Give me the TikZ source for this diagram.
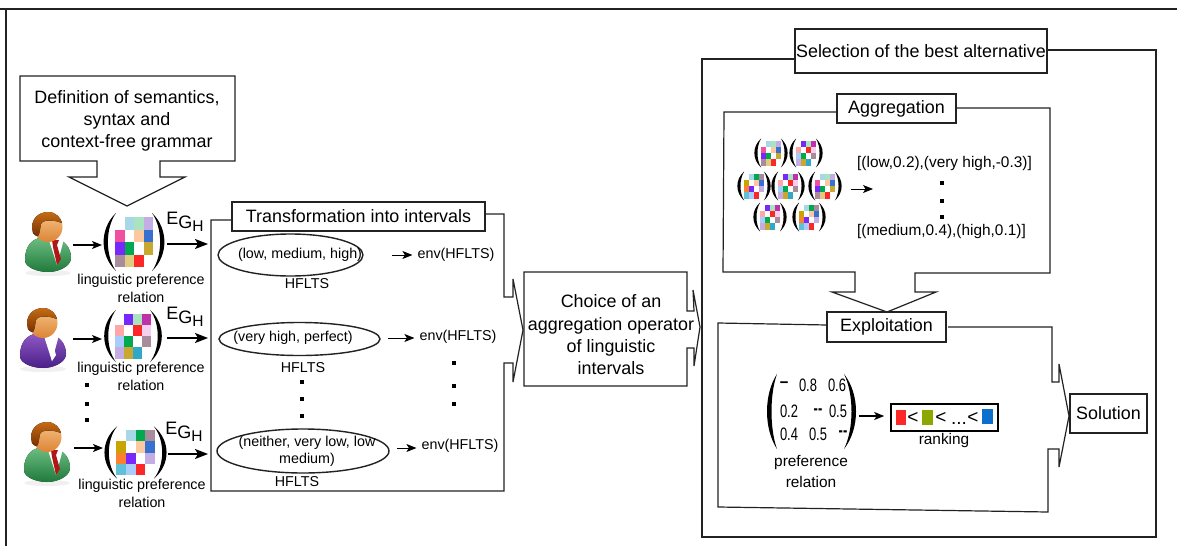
\documentclass[tikz,border=0pt]{standalone}
\usepackage{fontspec}
\setmainfont{Liberation Sans}
\usetikzlibrary{arrows.meta,shapes.geometric}
\definecolor{ink}{HTML}{222222}
\definecolor{cLB}{HTML}{A8D8E8}
\definecolor{cLG}{HTML}{A8E4C0}
\definecolor{cLI}{HTML}{C4ACE4}
\definecolor{cPK}{HTML}{F050A0}
\definecolor{cPE}{HTML}{FCC8A0}
\definecolor{cBL}{HTML}{3870D0}
\definecolor{cVI}{HTML}{7828F8}
\definecolor{cGR}{HTML}{00A850}
\definecolor{cGO}{HTML}{C8A830}
\definecolor{cMA}{HTML}{A88C9C}
\definecolor{cKH}{HTML}{E0CC80}
\definecolor{cRE}{HTML}{FC2828}
\definecolor{cMG}{HTML}{C030A8}
\definecolor{cSA}{HTML}{FCA8A8}
\definecolor{cLP}{HTML}{F4D0EC}
\definecolor{cSK}{HTML}{A8CCFC}
\definecolor{cTE}{HTML}{30A8C8}
\definecolor{cOR}{HTML}{FC8030}
\definecolor{cCY}{HTML}{60C0D8}
\definecolor{cYE}{HTML}{C8A400}
\definecolor{sqG}{HTML}{8CA800}
\definecolor{sqB}{HTML}{0A70CC}
\definecolor{suitGa}{HTML}{6CBC80}
\definecolor{suitGb}{HTML}{1F7A3C}
\definecolor{suitVa}{HTML}{8E58C4}
\definecolor{suitVb}{HTML}{4A1E88}
\definecolor{tieR}{HTML}{B01818}
\definecolor{faceA}{HTML}{F6C488}
\definecolor{faceB}{HTML}{DC8434}
\definecolor{hairA}{HTML}{C46C14}
\definecolor{hairB}{HTML}{7A3004}
\tikzset{
  frame/.style={draw=ink,line width=1.2pt,line join=miter},
  box/.style={draw=ink,line width=1.5pt,fill=white,inner sep=0pt,align=center,font=\fontsize{17.9}{20}\selectfont},
  t13/.style={inner sep=0pt,align=center,font=\fontsize{14.3}{17}\selectfont},
  t14/.style={inner sep=0pt,align=center,font=\fontsize{14.3}{18}\selectfont},
  t15/.style={inner sep=0pt,align=center,font=\fontsize{15.4}{21}\selectfont},
  t17/.style={inner sep=0pt,align=center,font=\fontsize{17.9}{22.3}\selectfont},
  num/.style={inner sep=0pt,font=\fontsize{18}{20}\selectfont},
  hf/.style={draw=ink,line width=1.4pt},
  arr/.style={draw=black,line width=1.4pt,-{Stealth[length=10pt,width=8pt,inset=2.5pt]}},
  bigarr/.style={draw=black,line width=1.8pt,-{Stealth[length=13pt,width=10pt,inset=3pt]}},
  dotm/.style={fill=black,minimum size=3.6pt,inner sep=0pt},
  rk/.style={inner sep=0pt,font=\fontsize{19}{20}\selectfont}
}
\newcommand{\parenfig}[5]{% tip x, outer x, top y, bottom y, thickness
  \pgfmathsetmacro{\pa}{#1+(#2-#1)/0.75}
  \pgfmathsetmacro{\pb}{#1+(#2-#1)/0.75-(#2-#1)/abs(#2-#1)*#5/0.75}
  \pgfmathsetmacro{\pc}{#3+(#4-#3)*0.27}
  \pgfmathsetmacro{\pd}{#3+(#4-#3)*0.73}
  \fill[black] (#1,#3) .. controls (\pa,\pc) and (\pa,\pd) .. (#1,#4)
     .. controls (\pb,\pd) and (\pb,\pc) .. (#1,#3) -- cycle;
}
\newcommand{\prefmatfig}[6]{% cx cy sx sy thickness colours
  \begin{scope}[shift={(#1,#2)},xscale=#3,yscale=#4]
    \foreach \cc [count=\ii from 0] in #6 {
      \pgfmathtruncatemacro{\cx}{mod(\ii,4)}
      \pgfmathtruncatemacro{\cy}{int(\ii/4)}
      \fill[\cc] ({-20+10*\cx},{-25+12.5*\cy}) rectangle ++(10,12.5);
    }
    \parenfig{-19}{-32}{-29}{29}{#5}
    \parenfig{19}{32}{-29}{29}{#5}
  \end{scope}
}
\newcommand{\matA}{white,cLB,cLG,cLI,cPK,white,cPE,cBL,cVI,cGR,white,cGO,cMA,cKH,cRE,white}
\newcommand{\matB}{white,cVI,cLG,cMG,cSA,white,cRE,cLP,cSK,cGR,white,cMA,cLI,cGO,cTE,white}
\newcommand{\matC}{white,cLB,cGR,cMA,cYE,white,cPE,cBL,cOR,cVI,white,cLI,cCY,cSK,cRE,white}
\newcommand{\personfig}[5]{% head x, y, dark, light, tie
  \begin{scope}[shift={(#1,#2)}]
    \fill[black!6] (1,46) ellipse (23 and 3);
    \fill[top color=#4,bottom color=#3] (-8,11) .. controls (-19,14) and (-22,24) .. (-22,33)
       .. controls (-22,41) and (-8,45) .. (1,45) .. controls (12,45) and (24,39) .. (24,31)
       .. controls (24,21) and (18,14) .. (9,11) -- cycle;
    \fill[white] (1,10) -- (17,12) -- (10,38) -- cycle;
    \fill[#5] (5,13) -- (12,13) -- (10,18) -- (14,32) -- (10,38) -- (6,20) -- cycle;
    \shade[top color=faceA,bottom color=faceB] (1,0) ellipse (14.5 and 15);
    \fill[top color=hairA,bottom color=hairB] (-14,6) .. controls (-18,-8) and (-8,-15) .. (1,-15)
       .. controls (9,-15) and (14,-9) .. (15,-4) .. controls (8,-7) and (-4,-8) .. (-6,-3)
       .. controls (-7,1) and (-7,6) .. (-9,9) .. controls (-11,9) and (-13,8) .. (-14,6) -- cycle;
  \end{scope}
}
\begin{document}
\begin{tikzpicture}[x=1pt,y=-1pt]
\useasboundingbox (0,0) rectangle (1177,546);
\fill[white] (0,0) rectangle (1177,546);
% outer rules
\draw[frame] (0,9) -- (1177,9);
\draw[frame] (6,9) -- (6,546);
% definition callout
\draw[frame,fill=white] (20,76) -- (235,76) -- (235,161) -- (160,161) -- (160,177) -- (185,177) -- (127,206)
   -- (69,177) -- (97,177) -- (97,161) -- (20,161) -- cycle;
\node[t17] (defn) at (127,121) {Definition of semantics,\\syntax and\\context-free grammar};
% persons
\personfig{47}{227}{suitGb}{suitGa}{tieR}
\personfig{42}{323}{suitVb}{suitVa}{white}
\personfig{46}{437}{suitGb}{suitGa}{tieR}
\coordinate (p1) at (73,245);
\coordinate (p2) at (73,339);
\coordinate (p3) at (74,448);
\coordinate (m1l) at (102,245);
\coordinate (m2l) at (102,339);
\coordinate (m3l) at (103,448);
\draw[arr] (p1) -- (m1l);
\draw[arr] (p2) -- (m2l);
\draw[arr] (p3) -- (m3l);
% matrices
\prefmatfig{134}{242}{0.95}{1.0}{4.5}{\matA}
\prefmatfig{133}{336}{0.9}{0.9}{4.5}{\matB}
\prefmatfig{135.5}{452.5}{0.97}{0.9}{4.5}{\matC}
\node[t14] (l1) at (141,288) {linguistic preference\\relation};
\node[t14] (l2) at (141,376) {linguistic preference\\relation};
\node[t14] (l3) at (142,493) {linguistic preference\\relation};
\node[dotm] (d1) at (87,385) {};
\node[dotm] (d2) at (87,404) {};
\node[dotm] (d3) at (87,420) {};
% E_G_H arrows
\newcommand{\egh}{\fontsize{18}{20}\selectfont E\raisebox{-4pt}{G\raisebox{-3pt}{\fontsize{15.5}{20}\selectfont H}}}
\node[inner sep=0pt] (e1) at (185,222) {\egh};
\node[inner sep=0pt] (e2) at (185,317) {\egh};
\node[inner sep=0pt] (e3) at (184,432) {\egh};
\coordinate (g1) at (167,244); \coordinate (h1) at (208,244);
\coordinate (g2) at (167,338); \coordinate (h2) at (208,338);
\coordinate (g3) at (168,454); \coordinate (h3) at (208,454);
\draw[bigarr] (g1) -- (h1);
\draw[bigarr] (g2) -- (h2);
\draw[bigarr] (g3) -- (h3);
% transformation frame
\draw[frame] (232,220) -- (211,220) -- (211,491) -- (504,491) -- (504,363) -- (513,363) -- (513,382) -- (523,330)
   -- (513,279) -- (513,297) -- (504,297) -- (504,214) -- (485,214);
\node[box,minimum width=253pt,minimum height=29pt] (trans) at (358.5,216.5) {Transformation into intervals};
\node[hf,ellipse,minimum width=145pt,minimum height=42pt,inner sep=0pt] (e1a) at (290.5,255) {};
\node[t13] (e1t) at (300,255) {(low, medium, high)};
\node[hf,ellipse,minimum width=161pt,minimum height=33pt,inner sep=0pt] (e2a) at (299.5,339) {};
\node[t13] (e2t) at (293,338) {(very high, perfect)};
\node[hf,ellipse,minimum width=172pt,minimum height=44pt,inner sep=0pt] (e3a) at (303,451) {};
\node[t13] (e3t) at (307,451) {(neither, very low, low\\medium)};
\node[t13] (hf1) at (307,284) {HFLTS};
\node[t13] (hf2) at (303,368) {HFLTS};
\node[t13] (hf3) at (297,482) {HFLTS};
\node[t13] (env1) at (456,255) {env(HFLTS)};
\node[t13] (env2) at (458,337) {env(HFLTS)};
\node[t13] (env3) at (460,446) {env(HFLTS)};
\coordinate (a1) at (392,255); \coordinate (a2) at (388,338); \coordinate (a3) at (397,448);
\draw[arr,line width=1pt,shorten >=5pt] (a1) -- (env1.west |- a1);
\draw[arr,line width=1pt,shorten >=5pt] (a2) -- (env2.west |- a2);
\draw[arr,line width=1pt,shorten >=5pt] (a3) -- (env3.west |- a3);
\node[dotm] (d4) at (302,382) {};
\node[dotm] (d5) at (302,399) {};
\node[dotm] (d6) at (302,416) {};
\node[dotm] (d7) at (454,363) {};
\node[dotm] (d8) at (454,386) {};
\node[dotm] (d9) at (454,404) {};
% choice
\draw[frame] (524,272) -- (687,272) -- (687,311) -- (694,311) -- (693,290) -- (700,327) -- (694,366) -- (694,348)
   -- (687,348) -- (687,386) -- (524,386) -- cycle;
\node[t17] (choice) at (611,335) {Choice of an\\aggregation operator\\of linguistic\\intervals};
% selection frame
\draw[frame] (795,59) -- (702,59) -- (702,537) -- (1156,537) -- (1156,50) -- (1047,50);
\node[box,minimum width=252pt,minimum height=44pt] (sel) at (921,51) {Selection of the best alternative};
% aggregation frame
\draw[frame] (837,112) -- (724,112) -- (723,272) -- (855,272) -- (855,292) -- (832,292) -- (887,312) -- (936,292)
   -- (915,292) -- (915,273) -- (1050,273) -- (1050,108) -- (956,108);
\node[box,minimum width=119pt,minimum height=29pt] (agg) at (896.5,108.5) {Aggregation};
\prefmatfig{771}{153}{0.52}{0.5}{6}{\matA}
\prefmatfig{806}{153}{0.52}{0.5}{6}{\matB}
\prefmatfig{754}{186}{0.52}{0.5}{6}{\matC}
\prefmatfig{788}{186}{0.52}{0.5}{6}{\matB}
\prefmatfig{825}{186}{0.52}{0.5}{6}{\matA}
\prefmatfig{770}{217}{0.52}{0.5}{6}{\matB}
\prefmatfig{809}{217}{0.52}{0.5}{6}{\matC}
\coordinate (a4) at (851,189); \coordinate (a5) at (873,189);
\draw[arr,line width=1pt] (a4) -- (a5);
\node[t15,anchor=west] (r1) at (857,164) {[(low,0.2),(very high,-0.3)]};
\node[t15,anchor=west] (r2) at (857,232) {[(medium,0.4),(high,0.1)]};
\node[dotm] (d10) at (942,183) {};
\node[dotm] (d11) at (942,201) {};
\node[dotm] (d12) at (942,217) {};
% exploitation frame
\draw[frame] (827,325) -- (718,323) -- (718,507) -- (1048,512) -- (1048,449) -- (1059,449) -- (1059,467) -- (1069,416)
   -- (1059,364) -- (1059,382) -- (1052,382) -- (1052,327) -- (948,327);
\node[box,minimum width=119pt,minimum height=30pt] (expl) at (886.5,327) {Exploitation};
% numeric matrix
\parenfig{777}{767}{374}{449}{4.5}
\parenfig{844}{856}{374}{449}{4.5}
\newcommand{\nn}[1]{\scalebox{0.72}[1]{#1}}
\node[num] (n11) at (784,385) {\bfseries\scalebox{0.85}[1]{–}};
\node[num] (n12) at (808,385) {\nn{0.8}};
\node[num] (n13) at (837,385) {\nn{0.6}};
\node[num] (n21) at (789,411) {\nn{0.2}};
\node[num] (n22) at (818,412) {\bfseries\nn{-{}-}};
\node[num] (n23) at (838,411) {\nn{0.5}};
\node[num] (n31) at (789,434) {\nn{0.4}};
\node[num] (n32) at (818,434) {\nn{0.5}};
\node[num] (n33) at (843,434) {\bfseries\nn{-{}-}};
\node[t15] (pr) at (811,471) {preference\\relation};
% ranking
\node[draw=black,line width=1.6pt,minimum width=107pt,minimum height=27pt,inner sep=0pt] (rank) at (944.5,417.5) {};
\coordinate (a6) at (859,416);
\draw[arr,shorten >=6pt] (a6) -- (rank.west |- a6);
\fill[cRE] (896,410) rectangle (906,425);
\fill[sqG] (922,410) rectangle (933,425);
\fill[sqB] (982,409) rectangle (993,424);
\node[rk] (lt1) at (913,417.5) {<};
\node[rk] (lt2) at (941,417.5) {<};
\node[rk,anchor=base] (dots) at (959,424) {...};
\node[rk] (lt3) at (973,417.5) {<};
\node[t15] (rkl) at (944,441) {ranking};
% solution
\node[box,minimum width=77pt,minimum height=39pt] (sol) at (1108.5,413.5) {Solution};
\end{tikzpicture}
\end{document}
